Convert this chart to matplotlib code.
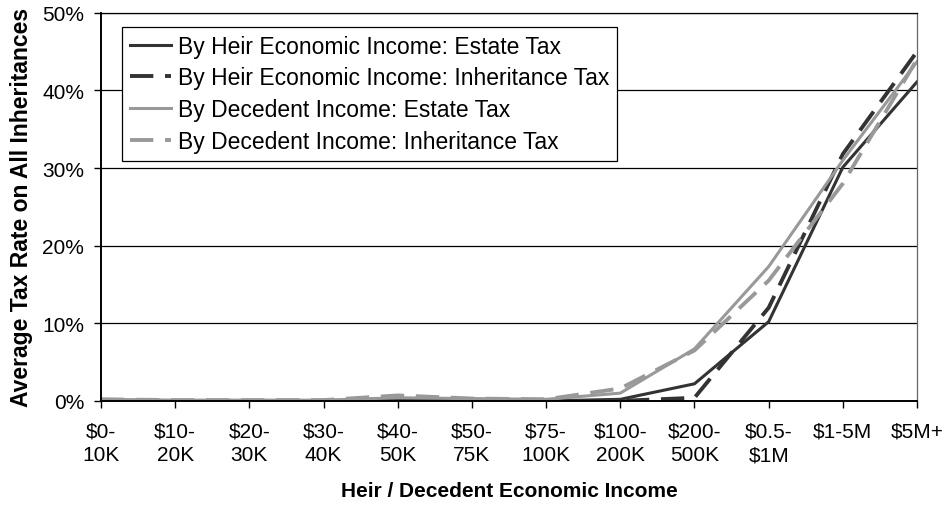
import numpy as np
import matplotlib.pyplot as plt
from matplotlib.ticker import FuncFormatter

plt.rcParams['font.family'] = ['Liberation Sans', 'DejaVu Sans']

categories = ["$0-\n10K", "$10-\n20K", "$20-\n30K", "$30-\n40K", "$40-\n50K",
              "$50-\n75K", "$75-\n100K", "$100-\n200K", "$200-\n500K",
              "$0.5-\n$1M", "$1-5M", "$5M+"]

# average tax rates, percent
heir_estate = [0.0, 0.0, 0.0, 0.0, 0.1, 0.0, 0.0, 0.2, 2.2, 10.2, 30.1, 41.1]
heir_inherit = [0.0, 0.0, 0.0, 0.0, 0.0, 0.0, 0.0, 0.0, 0.4, 12.0, 31.8, 45.0]
dec_estate = [0.2, 0.1, 0.1, 0.1, 0.4, 0.3, 0.2, 1.0, 6.7, 17.3, 31.0, 43.7]
dec_inherit = [0.2, 0.1, 0.1, 0.1, 0.7, 0.3, 0.2, 1.6, 6.5, 15.5, 28.0, 44.0]

x = np.arange(len(categories))

fig = plt.figure(figsize=(9.5, 5.1), dpi=100)
ax = fig.add_axes([0.1063, 0.212, 0.859, 0.761])

dark = "#333333"
light = "#999999"
ax.plot(x, heir_estate, color=dark, lw=2.2, label="By Heir Economic Income: Estate Tax")
ax.plot(x, heir_inherit, color=dark, lw=2.8, dashes=(6, 3),
        label="By Heir Economic Income: Inheritance Tax")
ax.plot(x, dec_estate, color=light, lw=2.2, label="By Decedent Income: Estate Tax")
ax.plot(x, dec_inherit, color=light, lw=2.8, dashes=(6, 3),
        label="By Decedent Income: Inheritance Tax")

ax.set_xlim(0, len(categories) - 1)
ax.set_ylim(0, 50)
ax.set_yticks(np.arange(0, 51, 10))
ax.yaxis.set_major_formatter(FuncFormatter(lambda v, p: f"{v:.0f}%"))
ax.set_xticks(x)
ax.set_xticklabels(categories, linespacing=1.3)
ax.grid(axis='y', color='black', lw=0.9)
ax.set_axisbelow(True)

ax.spines['top'].set_linewidth(0.9)
ax.spines['right'].set_color('#666666')
ax.spines['right'].set_linewidth(0.9)
ax.spines['left'].set_linewidth(1.4)
ax.spines['bottom'].set_linewidth(1.4)
ax.tick_params(axis='both', direction='out', length=5, width=1, labelsize=15, colors='black')
ax.tick_params(axis='x', pad=10)
ax.tick_params(axis='y', pad=7)

ax.set_ylabel("Average Tax Rate on All Inheritances", fontsize=16.5, fontweight='bold', labelpad=7)
ax.set_xlabel("Heir / Decedent Economic Income", fontsize=15, fontweight='bold', labelpad=12)

leg = ax.legend(loc='upper left', bbox_to_anchor=(0.0257, 0.964), fontsize=16.5,
                frameon=True, fancybox=False, edgecolor='black', framealpha=1,
                handlelength=1.8, handletextpad=0.3, borderpad=0.35, labelspacing=0.38,
                borderaxespad=0)
leg.get_frame().set_linewidth(0.9)

fig.savefig("out.png", dpi=100)
